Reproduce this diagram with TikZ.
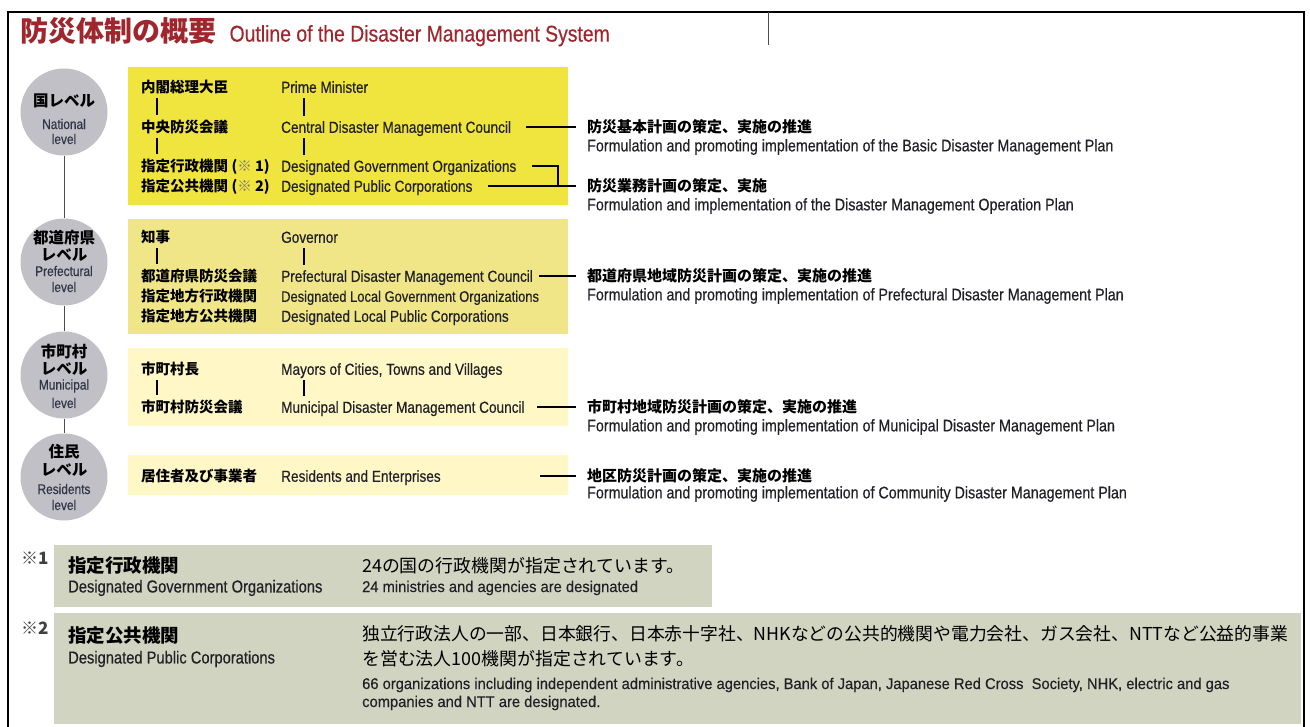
\documentclass[tikz,border=0pt]{standalone}
\usepackage{fontspec}
\setmainfont{Liberation Sans}[FakeStretch=0.85, FakeBold=0.4]
\newfontfamily\enwide{Liberation Sans}[FakeStretch=0.95, FakeBold=0.3]
\newfontfamily\jpfont{Noto Sans CJK JP}
\newcommand{\fsz}[1]{\fontsize{#1}{#1}\selectfont}

\definecolor{titlered}{RGB}{158,38,44}
\definecolor{natyellow}{RGB}{240,228,62}
\definecolor{prefyellow}{RGB}{240,230,135}
\definecolor{paleyellow}{RGB}{255,248,198}
\definecolor{notegray}{RGB}{209,212,192}
\definecolor{lvgray}{RGB}{192,192,198}
\definecolor{entext}{RGB}{32,32,38}
\definecolor{lvtext}{RGB}{50,52,72}

\tikzset{
  jpname/.style={anchor=west, inner sep=0, text height=12.8pt, text depth=1.8pt, font=\jpfont\bfseries\fsz{14.5}},
  enname/.style={anchor=west, inner sep=0, text height=13pt, text depth=1.4pt, text=entext, font=\fsz{16}},
  planjp/.style={anchor=west, inner sep=0, font=\jpfont\bfseries\fsz{15}},
  planen/.style={anchor=west, inner sep=0, text=entext, font=\fsz{16.8}},
  level/.style={circle, fill=lvgray, minimum size=87pt, inner sep=0},
  lvjp/.style={inner sep=0, font=\jpfont\bfseries\fsz{15.5}},
  lven/.style={inner sep=0, text=lvtext, font=\fsz{14}},
  link/.style={line width=1.1pt, black},
  lvline/.style={line width=1pt, black!70},
  notemark/.style={anchor=west, inner sep=0, text=black!75, font=\jpfont\bfseries\fsz{17}},
  notejp/.style={anchor=west, inner sep=0, font=\jpfont\bfseries\fsz{18.5}},
  noteen/.style={anchor=west, inner sep=0, text=entext, font=\fsz{17.3}},
  notetxt/.style={anchor=west, inner sep=0, font=\jpfont\fsz{17.9}},
  notesm/.style={anchor=west, inner sep=0, text=entext, font=\enwide\fsz{15.5}},
}

\begin{document}
\begin{tikzpicture}[x=1pt, y=-1pt]
\useasboundingbox (0,0) rectangle (1310,727);

% frame and title
\draw[line width=1.6pt] (8,727) -- (8,12) -- (1304,12) -- (1304,727);
\draw[line width=1pt, black!70] (768,12) -- (768,45);
\node[anchor=west, inner sep=0, font=\jpfont\bfseries\fsz{28}, text=titlered] (ttlJP) at (20,31) {防災体制の概要};
\node[anchor=base west, inner sep=0, font=\fsz{22.8}, text=titlered] (ttlEN) at ([xshift=13]ttlJP.base east) {Outline of the Disaster Management System};

% level boxes
\fill[natyellow] (128,67) rectangle (568,205);
\fill[prefyellow] (128,219) rectangle (568,334);
\fill[paleyellow] (128,348) rectangle (568,426);
\fill[paleyellow] (128,455) rectangle (568,495);

% level circles
\node[level] (cNat) at (64,112) {};
\node[level] (cPref) at (64,262) {};
\node[level] (cMuni) at (64,375) {};
\node[level] (cRes) at (64,477) {};
\draw[lvline] (cNat) -- (cPref);
\draw[lvline] (cPref) -- (cMuni);
\draw[lvline] (cMuni) -- (cRes);

\node[lvjp] (tNat) at (64,101) {国レベル};
\node[lven] (eNat) at (64,124) {National};
\node[lven] (lNat) at (64,139) {level};
\node[lvjp] (tPref) at (64,238) {都道府県};
\node[lvjp] (tPref2) at (64,255) {レベル};
\node[lven] (ePref) at (64,271) {Prefectural};
\node[lven] (lPref) at (64,287) {level};
\node[lvjp] (tMuni) at (64,352) {市町村};
\node[lvjp] (tMuni2) at (64,369) {レベル};
\node[lven] (eMuni) at (64,386) {Municipal};
\node[lven] (lMuni) at (64,403) {level};
\node[lvjp] (tRes) at (64,452) {住民};
\node[lvjp] (tRes2) at (64,470) {レベル};
\node[lven] (eRes) at (64,489) {Residents};
\node[lven] (lRes) at (64,505) {level};

% national
\node[jpname] (jpPM) at (141,87) {内閣総理大臣};
\node[enname] (enPM) at (281,87) {Prime Minister};
\node[jpname] (jpCDMC) at (141,127) {中央防災会議};
\node[enname] (enCDMC) at (281,127) {Central Disaster Management Council};
\node[jpname] (jpDGO) at (141,166) {指定行政機関 (\textcolor{black!55}{※} 1)};
\node[enname] (enDGO) at (281,166) {Designated Government Organizations};
\node[jpname] (jpDPC) at (141,186) {指定公共機関 (\textcolor{black!55}{※} 2)};
\node[enname] (enDPC) at (281,186) {Designated Public Corporations};
\draw[link, shorten <=4pt, shorten >=4pt] ([xshift=16]jpPM.south west) -- ([xshift=16]jpCDMC.north west);
\draw[link, shorten <=4pt, shorten >=4pt] ([xshift=16]jpCDMC.south west) -- ([xshift=16]jpDGO.north west);
\draw[link, shorten <=4pt, shorten >=4pt] ([xshift=23]enPM.south west) -- ([xshift=23]enCDMC.north west);
\draw[link, shorten <=4pt, shorten >=4pt] ([xshift=23]enCDMC.south west) -- ([xshift=23]enDGO.north west);

% prefectural
\node[jpname] (jpGov) at (141,237) {知事};
\node[enname] (enGov) at (281,237) {Governor};
\node[jpname] (jpPDMC) at (141,276) {都道府県防災会議};
\node[enname] (enPDMC) at (281,276) {Prefectural Disaster Management Council};
\node[jpname] (jpDLGO) at (141,296) {指定地方行政機関};
\node[enname, font=\fsz{15.2}] (enDLGO) at (281,296) {Designated Local Government Organizations};
\node[jpname] (jpDLPC) at (141,316) {指定地方公共機関};
\node[enname] (enDLPC) at (281,316) {Designated Local Public Corporations};
\draw[link, shorten <=4pt, shorten >=4pt] ([xshift=16]jpGov.south west) -- ([xshift=16]jpPDMC.north west);
\draw[link, shorten <=4pt, shorten >=4pt] ([xshift=23]enGov.south west) -- ([xshift=23]enPDMC.north west);

% municipal
\node[jpname] (jpMayor) at (141,369) {市町村長};
\node[enname] (enMayor) at (281,369) {Mayors of Cities, Towns and Villages};
\node[jpname] (jpMDMC) at (141,407) {市町村防災会議};
\node[enname] (enMDMC) at (281,407) {Municipal Disaster Management Council};
\draw[link, shorten <=4pt, shorten >=4pt] ([xshift=16]jpMayor.south west) -- ([xshift=16]jpMDMC.north west);
\draw[link, shorten <=4pt, shorten >=4pt] ([xshift=23]enMayor.south west) -- ([xshift=23]enMDMC.north west);

% residents
\node[jpname] (jpRes) at (141,476) {居住者及び事業者};
\node[enname] (enRes) at (281,476) {Residents and Enterprises};

% plans
\node[planjp] (planBasic) at (587,127) {防災基本計画の策定、実施の推進};
\node[planen] (planBasicEN) at (587,147) {Formulation and promoting implementation of the Basic Disaster Management Plan};
\node[planjp] (planOps) at (587,186) {防災業務計画の策定、実施};
\node[planen] (planOpsEN) at (587,206) {Formulation and implementation of the Disaster Management Operation Plan};
\node[planjp] (planPref) at (587,276) {都道府県地域防災計画の策定、実施の推進};
\node[planen] (planPrefEN) at (587,296) {Formulation and promoting implementation of Prefectural Disaster Management Plan};
\node[planjp] (planMuni) at (587,407) {市町村地域防災計画の策定、実施の推進};
\node[planen] (planMuniEN) at (587,427) {Formulation and promoting implementation of Municipal Disaster Management Plan};
\node[planjp] (planComm) at (587,476) {地区防災計画の策定、実施の推進};
\node[planen] (planCommEN) at (587,494) {Formulation and promoting implementation of Community Disaster Management Plan};

\draw[link, shorten <=15pt, shorten >=11pt] (enCDMC.east) -- (planBasic.west);
\draw[link, shorten <=15pt] (enDGO.east) -| ([xshift=-29]planOps.west);
\draw[link, shorten <=15pt, shorten >=11pt] (enDPC.east) -- (planOps.west);
\draw[link, shorten <=6pt, shorten >=11pt] (enPDMC.east) -- (planPref.west);
\draw[link, shorten <=12pt, shorten >=11pt] (enMDMC.east) -- (planMuni.west);
\draw[link, shorten <=99pt, shorten >=11pt] (enRes.east) -- (planComm.west);

% notes
\fill[notegray] (54,545) rectangle (712,607);
\fill[notegray] (54,613) rectangle (1301,724);
\node[notemark] (mk1) at (21,558) {※1};
\node[notejp] (n1jp) at (68,566) {指定行政機関};
\node[noteen] (n1en) at (68,588) {Designated Government Organizations};
\node[notetxt] (n1txt) at (362,566) {24の国の行政機関が指定されています。};
\node[notesm] (n1sm) at (362,588) {24 ministries and agencies are designated};
\node[notemark] (mk2) at (21,628) {※2};
\node[notejp] (n2jp) at (68,636) {指定公共機関};
\node[noteen] (n2en) at (68,659) {Designated Public Corporations};
\node[notetxt, font=\jpfont\fsz{17.8}] (n2txt) at (362,634) {独立行政法人の一部、日本銀行、日本赤十字社、NHKなどの公共的機関や電力会社、ガス会社、NTTなど公益的事業};
\node[notetxt] (n2txtb) at (362,659) {を営む法人100機関が指定されています。};
\node[notesm] (n2sm) at (362,685) {66 organizations including independent administrative agencies, Bank of Japan, Japanese Red Cross\ \ Society, NHK, electric and gas};
\node[notesm] (n2smb) at (362,703) {companies and NTT are designated.};
\end{tikzpicture}
\end{document}
